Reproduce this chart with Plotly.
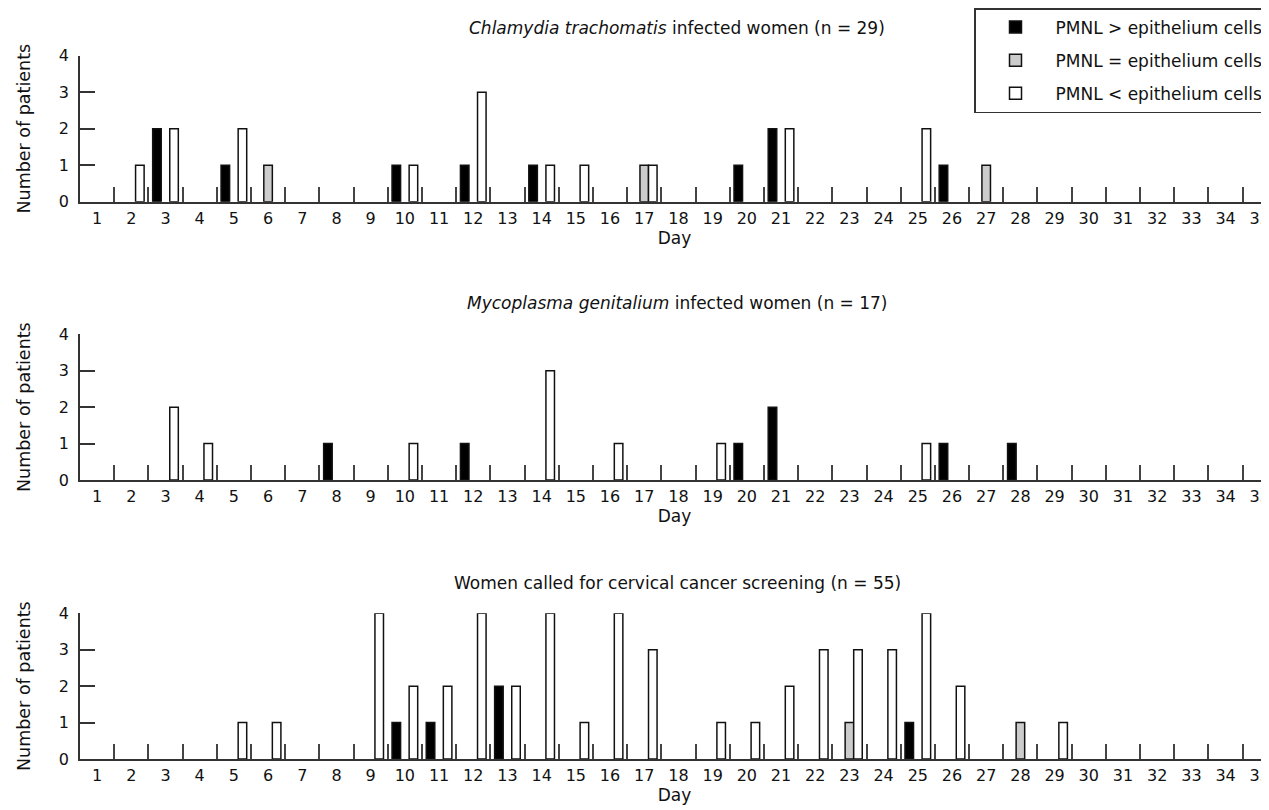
import plotly.graph_objects as go
from plotly.subplots import make_subplots

days = list(range(1, 36))
series_names = ["PMNL > epithelium cells", "PMNL = epithelium cells", "PMNL < epithelium cells"]
series_colors = ["#000000", "#cccccc", "#ffffff"]

panel_titles = [
    "<i>Chlamydia trachomatis</i> infected women (n = 29)",
    "<i>Mycoplasma genitalium</i> infected women (n = 17)",
    "Women called for cervical cancer screening (n = 55)",
]

# Panel 1: Chlamydia trachomatis
ct_black_days = [3, 5, 10, 12, 14, 20, 21, 26]
ct_black = [2, 1, 1, 1, 1, 1, 2, 1]
ct_gray_days = [6, 17, 27]
ct_gray = [1, 1, 1]
ct_white_days = [2, 3, 5, 10, 12, 14, 15, 17, 21, 25]
ct_white = [1, 2, 2, 1, 3, 1, 1, 1, 2, 2]

# Panel 2: Mycoplasma genitalium
mg_black_days = [8, 12, 20, 21, 26, 28]
mg_black = [1, 1, 1, 2, 1, 1]
mg_gray_days = []
mg_gray = []
mg_white_days = [3, 4, 10, 14, 16, 19, 25]
mg_white = [2, 1, 1, 3, 1, 1, 1]

# Panel 3: cervical cancer screening
cs_black_days = [10, 11, 13, 25]
cs_black = [1, 1, 2, 1]
cs_gray_days = [23, 28]
cs_gray = [1, 1]
cs_white_days = [5, 6, 9, 10, 11, 12, 13, 14, 15, 16, 17, 19, 20, 21, 22, 23, 24, 25, 26, 29]
cs_white = [1, 1, 4, 2, 2, 4, 2, 4, 1, 4, 3, 1, 1, 2, 3, 3, 3, 4, 2, 1]

panels = [
    [(ct_black_days, ct_black), (ct_gray_days, ct_gray), (ct_white_days, ct_white)],
    [(mg_black_days, mg_black), (mg_gray_days, mg_gray), (mg_white_days, mg_white)],
    [(cs_black_days, cs_black), (cs_gray_days, cs_gray), (cs_white_days, cs_white)],
]

y_ticks = [0, 1, 2, 3, 4]
half_days = [d + 0.5 for d in days[:-1]]

FONT = "DejaVu Sans"
bar_width = 0.25
offsets = [-0.375, -0.125, 0.125]

W, H = 1261, 802  # page body has an 8px margin; figure fills the rest of the window

fig = make_subplots(rows=3, cols=1)

for r, panel in enumerate(panels, start=1):
    for s, (xs, ys) in enumerate(panel):
        fig.add_trace(
            go.Bar(
                x=xs, y=ys,
                name=series_names[s],
                width=bar_width, offset=offsets[s],
                marker=dict(color=series_colors[s], line=dict(color="#111111", width=1.5)),
                showlegend=(r == 1),
                legendgroup=series_names[s],
            ),
            row=r, col=1,
        )

def fy(py):
    return 1 - (py - 8) / H

domains = [(fy(201.7), fy(55.7)), (fy(480), fy(334.3)), (fy(759), fy(613.3))]
title_py = [28, 303, 583]

for i in range(3):
    ax = "" if i == 0 else str(i + 1)
    fig.layout["xaxis" + ax].update(
        domain=[72 / W, 1.0],
        range=[0.5, 35.27],
        tickvals=days,
        ticktext=[str(d) for d in days],
        ticks="",
        automargin=False,
        ticklabeloverflow="allow",
        showline=True, linecolor="#333333", linewidth=1.5,
        showgrid=False, zeroline=False,
        tickfont=dict(size=16, family=FONT, color="#111"),
        ticklabelstandoff=1,
        minor=dict(tickvals=half_days, ticks="inside", ticklen=15, tickwidth=1.5, tickcolor="#444444"),
        title=dict(text="Day", font=dict(size=17, family=FONT, color="#111"), standoff=2),
    )
    fig.layout["yaxis" + ax].update(
        domain=list(domains[i]),
        range=[0, 4],
        tickvals=y_ticks,
        automargin=False,
        ticks="inside", ticklen=15, tickwidth=1.5, tickcolor="#333333",
        showline=True, linecolor="#333333", linewidth=1.5,
        showgrid=False, zeroline=False,
        tickfont=dict(size=16, family=FONT, color="#111"),
        ticklabelstandoff=6,
        title=dict(text="Number of patients", font=dict(size=17.5, family=FONT, color="#111"), standoff=24),
    )
    fig.add_annotation(
        text=panel_titles[i], xref="paper", yref="paper",
        x=669 / W, y=fy(title_py[i]), xanchor="center", yanchor="middle",
        showarrow=False, font=dict(size=17, family=FONT, color="#111"),
    )

fig.update_layout(
    width=W, height=H,
    margin=dict(l=0, r=0, t=0, b=0, autoexpand=False),
    plot_bgcolor="white", paper_bgcolor="white",
    barmode="overlay",
    font=dict(family=FONT, color="#111"),
    legend=dict(
        x=1.0, xanchor="right", y=1.0, yanchor="top",
        bordercolor="#333333", borderwidth=1.5,
        font=dict(size=17, family=FONT, color="#111"),
        traceorder="grouped", itemwidth=70, tracegroupgap=8,
        bgcolor="white",
    ),
)

fig.write_html("out.html")
